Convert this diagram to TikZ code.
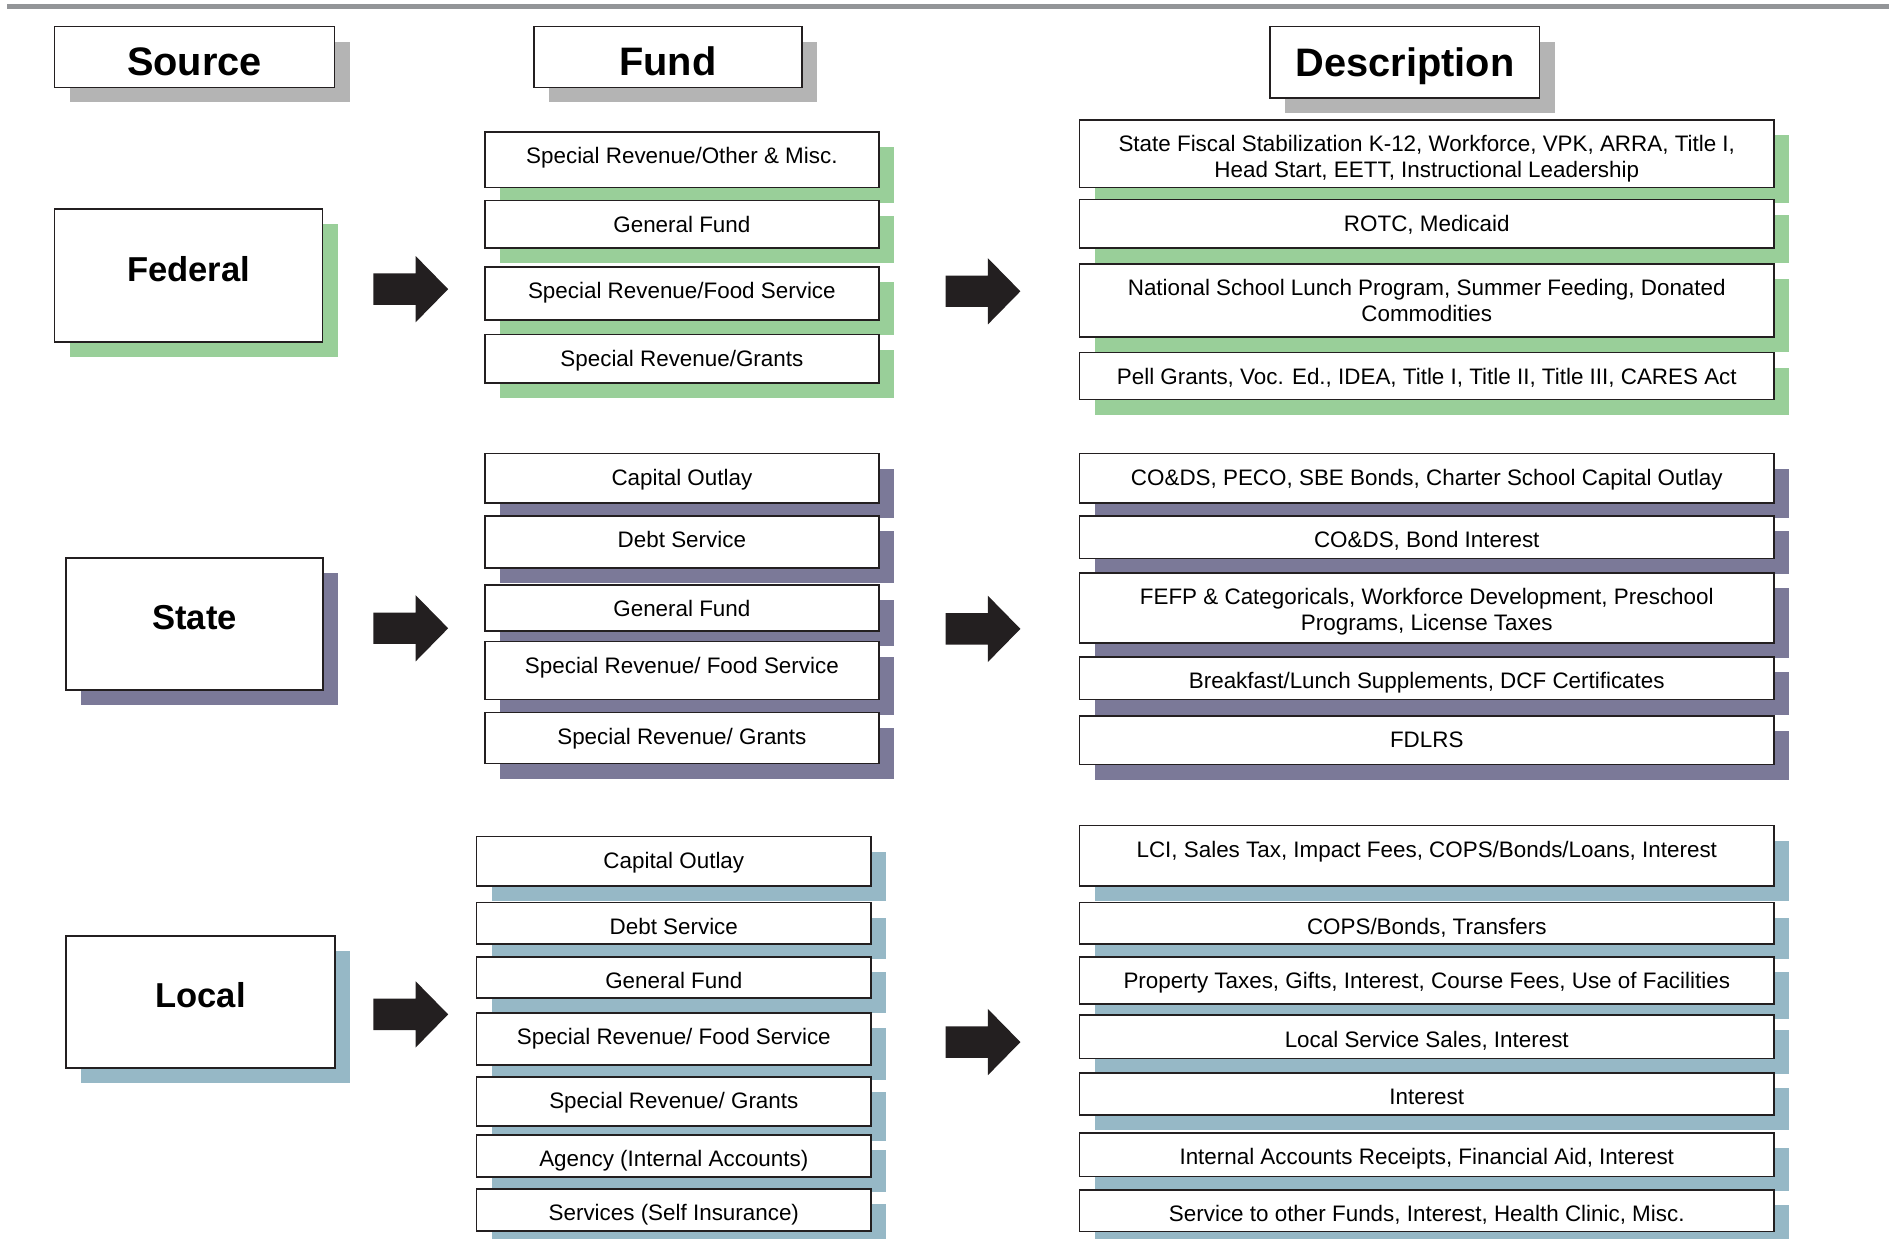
\documentclass[tikz,border=0pt]{standalone}
\usepackage{fontspec}
\setmainfont{Liberation Sans}
\usetikzlibrary{shadows}

\definecolor{fedgreen}{HTML}{99CF99}
\definecolor{statepurple}{HTML}{7B7998}
\definecolor{localblue}{HTML}{96B8C6}
\definecolor{headgray}{HTML}{B4B4B4}
\definecolor{rulegray}{HTML}{939598}
\definecolor{inkblack}{HTML}{231F20}

\begin{document}
\begin{tikzpicture}[
    x=1pt, y=-1pt,
    box/.style={draw=inkblack, line width=1.4pt, fill=white, inner sep=0pt, align=center, font=\fontsize{18.6}{21.6}\selectfont},
    backing/.style={drop shadow={shadow xshift=12.5pt, shadow yshift=-12.5pt, fill=#1, opacity=1}},
    headbox/.style={box, backing=headgray, minimum height=50.4pt, font=\bfseries\fontsize{33}{36}\selectfont, text height=30pt, text depth=0pt},
    srcbox/.style={box, font=\bfseries\fontsize{28.7}{32}\selectfont, text height=20.5pt, text depth=11pt},
    % text hangs from the top edge; #1 = room below the baseline
    fundbox/.style={box, anchor=north, minimum width=327pt, text height=26.4pt, text depth=#1},
    descbox/.style={box, anchor=north, minimum width=576.5pt, text height=26.4pt, text depth=#1},
    twolines/.style={text height=48pt},
    fatarrow/.pic={\fill[inkblack] (0,-13) -- (35,-13) -- (35,-27.5) -- (62,0) -- (35,27.5) -- (35,13) -- (0,13) -- cycle;}
]
\useasboundingbox (0,0) rectangle (1568,1028);
\fill[rulegray] (5.7,3.3) rectangle (1568,7.7);

% column heads
\node[headbox, minimum width=232.5pt] (srchead) at (161.5,47.3) {Source};
\node[headbox, minimum width=222.7pt] (fundhead) at (554.4,47.3) {Fund};
\node[headbox, minimum width=223.6pt, minimum height=59.6pt, text height=23.6pt] (deschead) at (1166.2,51.8) {Description};

% federal
\node[srcbox, backing=fedgreen, minimum width=222.5pt, minimum height=110pt] (federal) at (156.5,228.6) {Federal};
\pic (fedarrowa) at (310,240) {fatarrow};
\node[fundbox=19.6pt, backing=fedgreen] (fedf1) at (566,109) {Special Revenue/Other \& Misc.};
\node[fundbox=12.9pt, backing=fedgreen] (fedf2) at (566,165.7) {General Fund};
\node[fundbox=17.6pt, backing=fedgreen] (fedf3) at (566,221) {Special Revenue/Food Service};
\node[fundbox=13.6pt, backing=fedgreen] (fedf4) at (566,277) {Special Revenue/Grants};
\pic (fedarrowb) at (785,241.8) {fatarrow};
\node[descbox=8.2pt, twolines, backing=fedgreen] (fedd1) at (1184.3,98.8) {State Fiscal Stabilization K-12, Workforce, VPK, ARRA, Title I,\\Head Start, EETT, Instructional Leadership};
\node[descbox=13.6pt, backing=fedgreen] (fedd2) at (1184.3,165) {ROTC, Medicaid};
\node[descbox=12.5pt, twolines, backing=fedgreen] (fedd3) at (1184.3,218.5) {National School Lunch Program, Summer Feeding, Donated\\Commodities};
\node[descbox=12.6pt, backing=fedgreen] (fedd4) at (1184.3,292) {Pell Grants, Voc. Ed., IDEA, Title I, Title II, Title III, CARES Act};

% state
\node[srcbox, backing=statepurple, minimum width=213pt, minimum height=110pt] (state) at (161.5,518) {State};
\pic (starrowa) at (310,521.5) {fatarrow};
\node[fundbox=14.9pt, backing=statepurple] (stf1) at (566,375.7) {Capital Outlay};
\node[fundbox=17.1pt, backing=statepurple] (stf2) at (566,427.5) {Debt Service};
\node[fundbox=11.6pt, backing=statepurple] (stf3) at (566,485) {General Fund};
\node[fundbox=21.8pt, backing=statepurple] (stf4) at (566,531.8) {Special Revenue/ Food Service};
\node[fundbox=15.9pt, backing=statepurple] (stf5) at (566,590.7) {Special Revenue/ Grants};
\pic (starrowb) at (785,522) {fatarrow};
\node[descbox=14.9pt, backing=statepurple] (std1) at (1184.3,375.7) {CO\&DS, PECO, SBE Bonds, Charter School Capital Outlay};
\node[descbox=9.1pt, backing=statepurple] (std2) at (1184.3,427.5) {CO\&DS, Bond Interest};
\node[descbox=10pt, twolines, backing=statepurple] (std3) at (1184.3,475) {FEFP \& Categoricals, Workforce Development, Preschool\\Programs, License Taxes};
\node[descbox=9.1pt, backing=statepurple] (std4) at (1184.3,544.5) {Breakfast/Lunch Supplements, DCF Certificates};
\node[descbox=14.1pt, backing=statepurple] (std5) at (1184.3,593.5) {FDLRS};

% local
\node[srcbox, backing=localblue, minimum width=223pt, minimum height=109.6pt] (local) at (166.5,831.8) {Local};
\pic (locarrowa) at (310,842) {fatarrow};
\node[fundbox=14.6pt, backing=localblue, minimum width=327.5pt] (locf1) at (559.3,693.6) {Capital Outlay};
\node[fundbox=8.2pt, backing=localblue, minimum width=327.5pt] (locf2) at (559.3,748.4) {Debt Service};
\node[fundbox=7.9pt, backing=localblue, minimum width=327.5pt] (locf3) at (559.3,793.5) {General Fund};
\node[fundbox=16.4pt, backing=localblue, minimum width=327.5pt] (locf4) at (559.3,840.3) {Special Revenue/ Food Service};
\node[fundbox=14.4pt, backing=localblue, minimum width=327.5pt] (locf5) at (559.3,893) {Special Revenue/ Grants};
\node[fundbox=8.2pt, backing=localblue, minimum width=327.5pt] (locf6) at (559.3,941.5) {Agency (Internal Accounts)};
\node[fundbox=8.2pt, backing=localblue, minimum width=327.5pt] (locf7) at (559.3,986.3) {Services (Self Insurance)};
\pic (locarrowb) at (785,865) {fatarrow};
\node[descbox=23.7pt, backing=localblue] (locd1) at (1184.3,684.5) {LCI, Sales Tax, Impact Fees, COPS/Bonds/Loans, Interest};
\node[descbox=8.2pt, backing=localblue] (locd2) at (1184.3,748.4) {COPS/Bonds, Transfers};
\node[descbox=12.9pt, backing=localblue] (locd3) at (1184.3,793.5) {Property Taxes, Gifts, Interest, Course Fees, Use of Facilities};
\node[descbox=9.6pt, backing=localblue] (locd4) at (1184.3,842) {Local Service Sales, Interest};
\node[descbox=8.2pt, backing=localblue] (locd5) at (1184.3,890) {Interest};
\node[descbox=9.6pt, backing=localblue] (locd6) at (1184.3,939.8) {Internal Accounts Receipts, Financial Aid, Interest};
\node[descbox=8.1pt, backing=localblue] (locd7) at (1184.3,987) {Service to other Funds, Interest, Health Clinic, Misc.};
\end{tikzpicture}
\end{document}
